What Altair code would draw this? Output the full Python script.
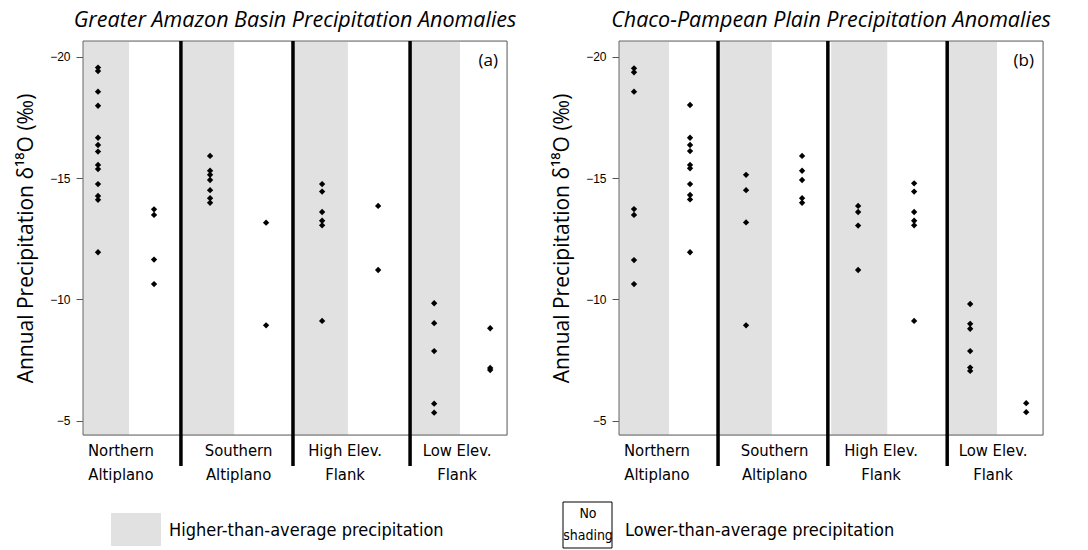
import json
import altair as alt
import pandas as pd

# ---- data: annual precipitation d18O (permil) by region and anomaly class ----
# x positions: odd = higher-than-average (shaded), even = lower-than-average
amazon_values = {
    1: [-19.55, -19.41, -18.56, -17.98, -16.66, -16.36, -16.09, -15.54, -15.37,
        -14.75, -14.26, -14.10, -11.94],
    2: [-13.71, -13.48, -11.64, -10.63],
    3: [-15.91, -15.30, -15.13, -14.92, -14.50, -14.17, -13.98],
    4: [-13.16, -8.93],
    5: [-14.75, -14.44, -13.60, -13.24, -13.05, -9.11],
    6: [-13.85, -11.21],
    7: [-9.84, -9.02, -7.87, -5.70, -5.33],
    8: [-8.81, -7.17, -7.09],
}
chaco_values = {
    1: [-19.52, -19.36, -18.56, -13.72, -13.48, -11.62, -10.63],
    2: [-18.01, -16.66, -16.36, -16.11, -15.54, -15.40, -14.75, -14.30, -14.12,
        -11.94],
    3: [-15.13, -14.50, -13.17, -8.93],
    4: [-15.91, -15.30, -14.92, -14.17, -13.98],
    5: [-13.85, -13.60, -13.04, -11.21],
    6: [-14.78, -14.44, -13.60, -13.24, -13.05, -9.11],
    7: [-9.81, -8.99, -8.79, -7.87, -7.19, -7.05],
    8: [-5.72, -5.35],
}

group_names = [["Northern", "Altiplano"], ["Southern", "Altiplano"],
               ["High Elev.", "Flank"], ["Low Elev.", "Flank"]]
group_label_pos = [1.4, 3.5, 5.4, 7.4]
y_ticks = [-20, -15, -10, -5]

panel_titles = ["Greater Amazon Basin Precipitation Anomalies",
                "Chaco-Pampean Plain Precipitation Anomalies"]
panel_tags = ["(a)", "(b)"]

# shaded (wet-anomaly) band edges and group separators, in x units
amazon_bands = [(0.732, 1.554), (2.518, 3.43), (4.5, 5.46), (6.59, 7.46)]
chaco_bands = [(0.732, 1.625), (2.536, 3.46), (4.52, 5.52), (6.61, 7.48)]
amazon_seps = [2.48, 4.48, 6.57]
chaco_seps = [2.50, 4.46, 6.59]

legend_high = "Higher-than-average precipitation"
legend_low = "Lower-than-average precipitation"
legend_box = ["No", "shading"]

# ---- styling ----
PLOT_W, PLOT_H = 424, 394
SHADE = "#e1e1e1"
TITLE_FONT = "Open Sans"
AXIS_TITLE_FONT = "Open Sans"
NARROW_FONT = ("'Noto Sans Condensed', 'DejaVu Sans Condensed', Lato, sans-serif")
TICK_FONT = "Liberation Sans"

x_scale = alt.Scale(domain=[0.732, 8.30], nice=False, zero=False)
y_scale = alt.Scale(domain=[-20.647, -4.41], nice=False, zero=False, reverse=True)

label_expr = json.dumps(group_names[3])
for pos_hi, names in reversed(list(zip([2.5, 4.5, 6.5], group_names[:3]))):
    label_expr = f"datum.value < {pos_hi} ? {json.dumps(names)} : ({label_expr})"

x_axis = alt.Axis(values=group_label_pos, labelExpr=label_expr, domain=False,
                  ticks=False, grid=False, labelFont=NARROW_FONT, labelFontSize=16.5,
                  labelColor="black", labelPadding=7, labelLineHeight=24,
                  labelOverlap=False, labelBound=False, labelFlush=False,
                  labelBaseline="top", title=None)

y_axis = alt.Axis(values=y_ticks, domain=False, grid=False, tickSize=7,
                  tickColor="#555", tickWidth=1, labelFont=TICK_FONT,
                  labelFontSize=12, labelColor="black", labelPadding=6,
                  title="Annual Precipitation δ¹⁸O (‰)", titleFont=AXIS_TITLE_FONT,
                  titleFontSize=21, titleFontWeight="normal", titleColor="black",
                  titlePadding=13)


def xenc(field):
    return alt.X(field, type="quantitative", scale=x_scale, axis=x_axis)


def panel(values, bands, seps, title, tag, legend_part):
    pts = pd.DataFrame([(p, v) for p, vs in values.items() for v in vs],
                       columns=["pos", "value"])
    band_df = pd.DataFrame(bands, columns=["x0", "x1"])
    sep_df = pd.DataFrame({"sep": seps})

    shade = alt.Chart(band_df).mark_rect(color=SHADE).encode(
        x=xenc("x0"), x2="x1", y=alt.value(0), y2=alt.value(PLOT_H))

    frame = alt.Chart(pd.DataFrame({"k": [0]})).mark_rect(
        fillOpacity=0, stroke="#666", strokeWidth=1).encode(
        x=alt.value(0), x2=alt.value(PLOT_W), y=alt.value(0), y2=alt.value(PLOT_H))

    dots = alt.Chart(pts).mark_point(shape="diamond", filled=True, size=40,
                                     color="black", opacity=1).encode(
        x=xenc("pos"),
        y=alt.Y("value:Q", scale=y_scale, axis=y_axis))

    rules = alt.Chart(sep_df).mark_rule(color="black", strokeWidth=3.5).encode(
        x=xenc("sep"), y=alt.value(0), y2=alt.value(PLOT_H + 31))

    tag_text = alt.Chart(pd.DataFrame({"t": [tag]})).mark_text(
        align="right", baseline="alphabetic", font=AXIS_TITLE_FONT, fontSize=17,
        color="black").encode(x=alt.value(PLOT_W - 9), y=alt.value(25), text="t:N")

    layers = [shade, frame, dots, rules, tag_text] + legend_part

    return alt.layer(*layers).properties(
        width=PLOT_W, height=PLOT_H,
        title=alt.TitleParams(title, font=TITLE_FONT, fontSize=21.5,
                              fontStyle="italic", fontWeight="normal",
                              color="black", anchor="middle", offset=8))


legend_a = [
    alt.Chart(pd.DataFrame({"k": [0]})).mark_rect(color=SHADE).encode(
        x=alt.value(28), x2=alt.value(78), y=alt.value(472), y2=alt.value(505)),
    alt.Chart(pd.DataFrame({"t": [legend_high]})).mark_text(
        align="left", baseline="middle", font=NARROW_FONT, fontSize=18,
        color="black").encode(x=alt.value(86), y=alt.value(490), text="t:N"),
]
legend_b = [
    alt.Chart(pd.DataFrame({"k": [0]})).mark_rect(
        fill="white", stroke="black", strokeWidth=1).encode(
        x=alt.value(-56), x2=alt.value(-7), y=alt.value(461), y2=alt.value(507)),
    alt.Chart(pd.DataFrame({"t": [legend_box]})).mark_text(
        align="center", baseline="middle", font=NARROW_FONT, fontSize=14,
        lineHeight=22, color="black").encode(
        x=alt.value(-31), y=alt.value(473), text="t"),
    alt.Chart(pd.DataFrame({"t": [legend_low]})).mark_text(
        align="left", baseline="middle", font=NARROW_FONT, fontSize=18,
        color="black").encode(x=alt.value(6), y=alt.value(490), text="t:N"),
]

panel_a = panel(amazon_values, amazon_bands, amazon_seps, panel_titles[0],
                panel_tags[0], legend_a)
panel_b = panel(chaco_values, chaco_bands, chaco_seps, panel_titles[1],
                panel_tags[1], legend_b)

chart = alt.hconcat(panel_a, panel_b, spacing=112, bounds="flush").properties(
    padding={"left": 15, "top": 9, "right": 0, "bottom": 0}
).configure_view(stroke=None).configure(background="white")

chart.save("out.html", embed_options={"renderer": "svg", "actions": False})
